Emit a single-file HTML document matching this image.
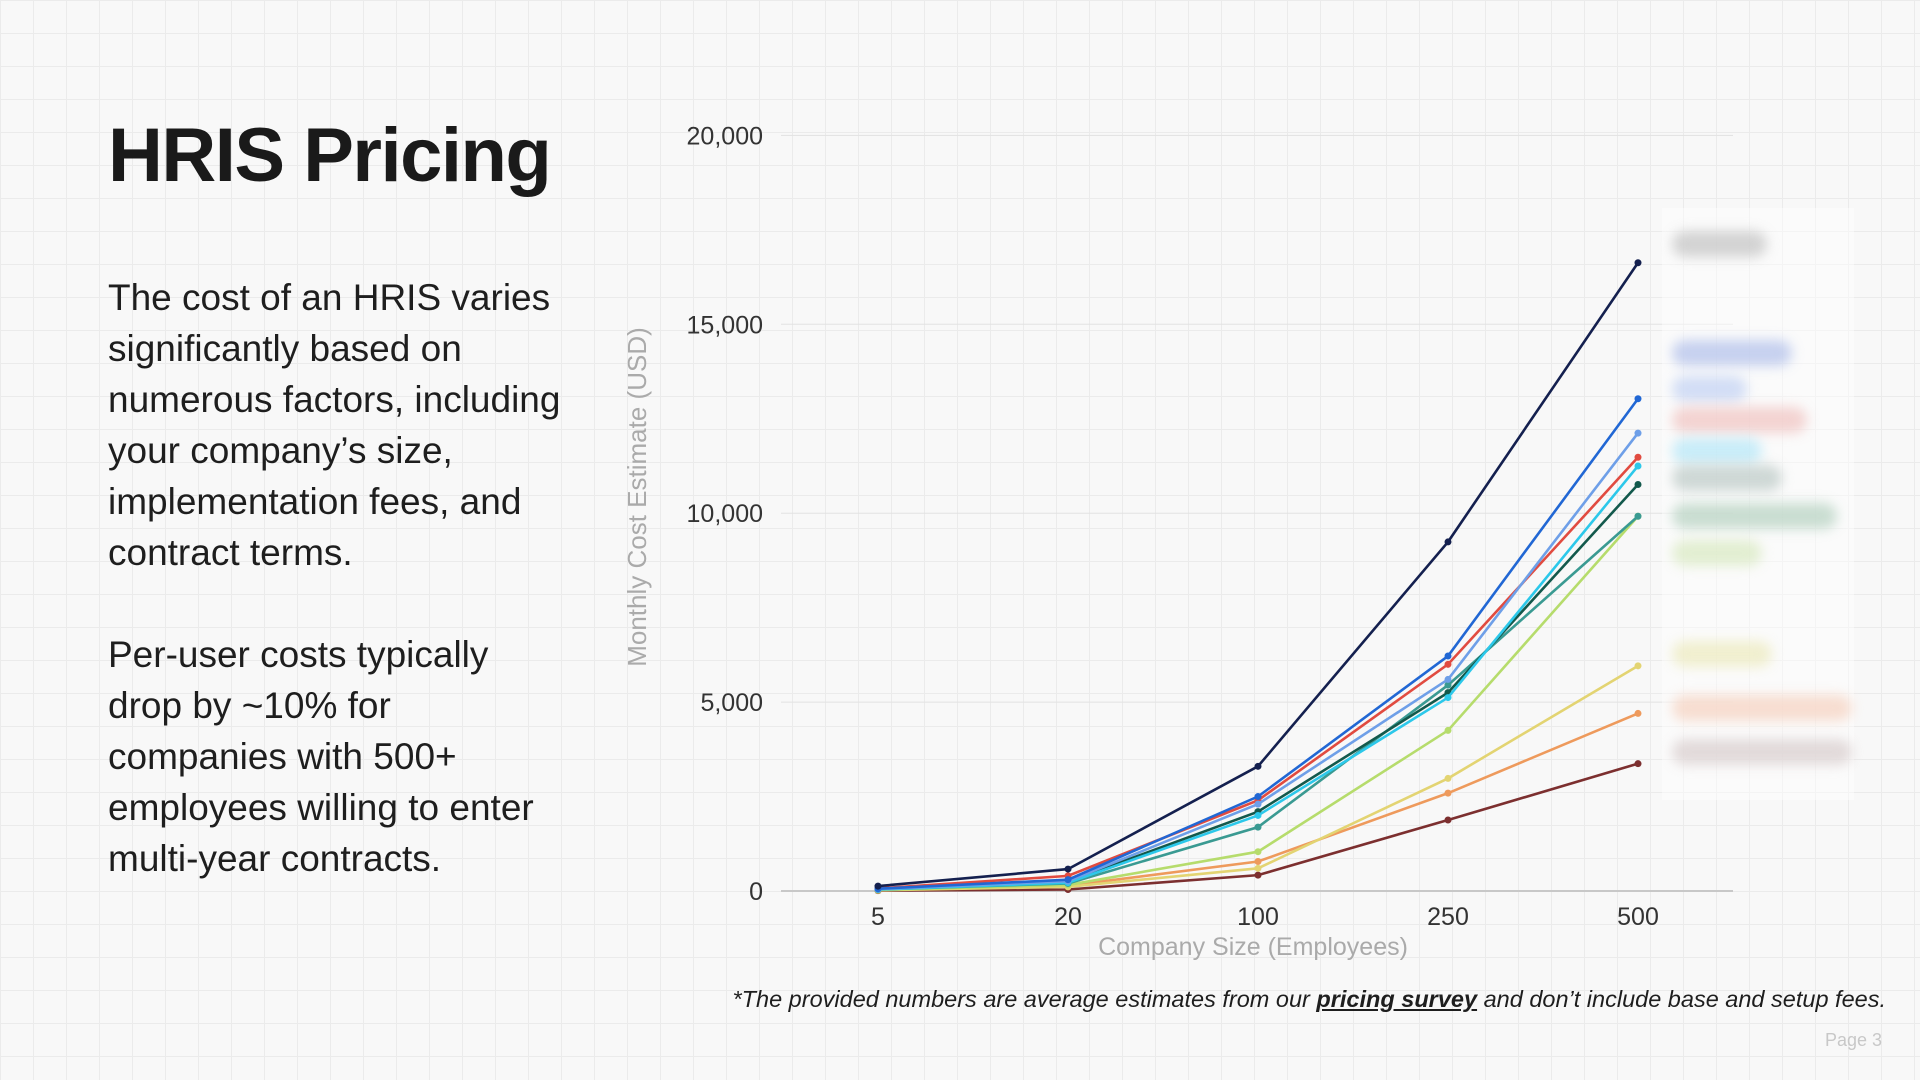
<!DOCTYPE html>
<html><head><meta charset="utf-8">
<style>
html,body{margin:0;padding:0;width:1920px;height:1080px;overflow:hidden}
body{background-color:#f8f8f8;background-image:linear-gradient(#ebebeb 1px,transparent 1px),linear-gradient(90deg,#ebebeb 1px,transparent 1px);background-size:33px 33px;font-family:"Liberation Sans",sans-serif;position:relative}
#title{position:absolute;left:108px;top:112px;font-size:76px;font-weight:bold;color:#1a1a1a;margin:0;letter-spacing:-1.5px}
.para{position:absolute;left:108px;width:620px;font-size:37px;line-height:51px;color:#1e1e1e;margin:0;white-space:nowrap}
#foot{position:absolute;right:34px;top:986px;font-size:23.5px;font-style:italic;color:#1e1e1e}
#foot b{text-decoration:underline}
#page{position:absolute;right:38px;top:1030px;font-size:18px;color:#c8c8c8}
#legend{position:absolute;left:1662px;top:208px;width:192px;height:592px;background:rgba(255,255,255,0.45)}
.lg{position:absolute;left:10px;height:26px;border-radius:13px;filter:blur(6px);opacity:0.8}
</style></head><body>
<h1 id="title">HRIS Pricing</h1>
<p class="para" style="top:272px">The cost of an HRIS varies<br>significantly based on<br>numerous factors, including<br>your company’s size,<br>implementation fees, and<br>contract terms.</p>
<p class="para" style="top:629px">Per-user costs typically<br>drop by ~10% for<br>companies with 500+<br>employees willing to enter<br>multi-year contracts.</p>
<svg id="chart" width="1920" height="1080" style="position:absolute;left:0;top:0"></svg>
<div id="legend"></div>
<div id="foot">*The provided numbers are average estimates from our <b>pricing survey</b> and don’t include base and setup fees.</div>
<div id="page">Page 3</div>
<script>
const categories=["5","20","100","250","500"];
const yTicks=[0,5000,10000,15000,20000];
const sNavy=[130,580,3300,9240,16630];
const sBlue=[60,300,2500,6220,13030];
const sLightBlue=[50,260,2300,5600,12120];
const sRed=[70,400,2400,6000,11480];
const sCyan=[40,220,2000,5120,11250];
const sDarkGreen=[50,250,2100,5250,10760];
const sTeal=[40,200,1690,5450,9920];
const sLightGreen=[30,160,1040,4250,9920];
const sYellow=[20,110,600,2980,5960];
const sOrange=[25,140,780,2590,4700];
const sBrown=[10,40,420,1880,3370];
const series=[
 {v:sNavy,c:"#14204f"},{v:sBlue,c:"#2167d4"},{v:sLightBlue,c:"#6e9fe8"},{v:sRed,c:"#e14b40"},
 {v:sCyan,c:"#2cc8ea"},{v:sDarkGreen,c:"#13594c"},{v:sTeal,c:"#3a9a92"},{v:sLightGreen,c:"#b6dc6c"},
 {v:sYellow,c:"#e3d472"},{v:sOrange,c:"#ee9a5c"},{v:sBrown,c:"#7c2f2f"}];
const svg=document.getElementById('chart');
const NS="http://www.w3.org/2000/svg";
const X0=878,XS=190,Y0=891,YPX=188.9/5000;
const xs=i=>X0+i*XS, ys=v=>Y0-v*YPX;
function mk(t,a){const e=document.createElementNS(NS,t);for(const k in a)e.setAttribute(k,a[k]);svg.appendChild(e);return e;}
yTicks.forEach(t=>{
 const g=mk('line',{x1:781,x2:1733,y1:ys(t),y2:ys(t),stroke:t===0?'#c8c8c8':'#e2e2e2','stroke-width':t===0?2:1});
 
 
 const l=mk('text',{x:763,y:ys(t)+9,'text-anchor':'end','font-size':25,fill:'#333'});
 l.textContent=t.toLocaleString('en-US');
 
 
});
categories.forEach((c,i)=>{
 const l=mk('text',{x:xs(i),y:925,'text-anchor':'middle','font-size':25,fill:'#333'});
 l.textContent=c;
 
 
});
const xt=mk('text',{x:1253,y:955,'text-anchor':'middle','font-size':25,fill:'#aaa'});
xt.textContent="Company Size (Employees)";


const yt=mk('text',{x:0,y:0,'text-anchor':'middle','font-size':26,fill:'#aaa',transform:'translate(646,497) rotate(-90)'});
yt.textContent="Monthly Cost Estimate (USD)";


series.slice().reverse().forEach((s,k)=>{
 const p=mk('polyline',{points:s.v.map((v,i)=>xs(i)+','+ys(v)).join(' '),fill:'none',stroke:s.c,'stroke-width':2.6});
 
 
 s.v.forEach((v,i)=>{
  const d=mk('circle',{cx:xs(i),cy:ys(v),r:3.5,fill:s.c});
  
  
 });
});
const lgY=[244,353,389,420,451,478,516,553,654,708,752];
const lgW=[95,120,75,135,90,110,165,90,100,180,180];
const lgC=["#c9c9c9","#b9c6ec","#c8d6f4","#f1c9c7","#bce9f8","#c3cfcc","#bdd6c7","#dcebc7","#eeecc4","#f6d6c6","#dcd2d2"];
const lg=document.getElementById('legend');
lgY.forEach((y,i)=>{
 const e=document.createElement('div');
 e.className='lg';
 e.style.top=(y-208-13)+'px';e.style.width=lgW[i]+'px';e.style.background=lgC[i];
 
 
 lg.appendChild(e);
});
</script>
</body></html>
